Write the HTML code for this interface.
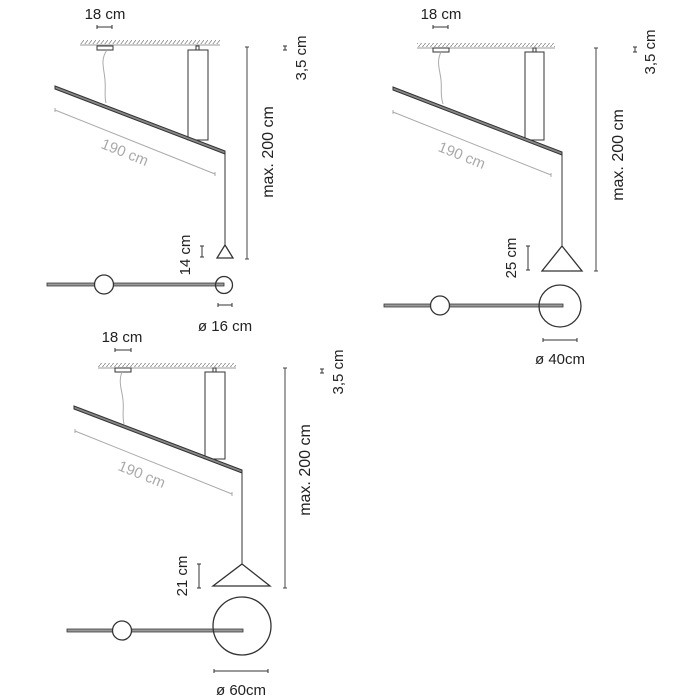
<!DOCTYPE html>
<html><head><meta charset="utf-8"><style>
html,body{margin:0;padding:0;background:#fff;}
svg{display:block;}
text{font-family:"Liberation Sans",sans-serif;fill:#222;}
</style></head><body>
<svg width="700" height="700" viewBox="0 0 700 700" xmlns="http://www.w3.org/2000/svg">
<defs>
<pattern id="h" width="4" height="5" patternUnits="userSpaceOnUse">
<line x1="0" y1="5" x2="4" y2="0" stroke="#888" stroke-width="0.8"/>
</pattern>
</defs>

<!-- Diagram 1 -->
<g stroke="#333" fill="none" stroke-width="1">
<text x="105" y="19" font-size="15" text-anchor="middle" stroke="none">18 cm</text>
<path d="M97 27H112M97 25V29M112 25V29"/>
<rect x="80" y="40" width="140" height="4" fill="url(#h)" stroke="none"/>
<line x1="80" y1="45" x2="220" y2="45" stroke="#999"/>
<rect x="97" y="46" width="16" height="4" fill="#fff"/>
<path d="M107 50 C100 60,104 68,105 80 S104 95,106 103" stroke="#aaa"/>
<rect x="188" y="50" width="20" height="90" fill="#fff"/>
<rect x="196" y="46" width="3" height="4"/>
<path d="M55 86 L225 151 L225 154 L55 89 Z" fill="#888" stroke="#333"/>
<path d="M55 110 L215 174 M55 108 L55 112 M215 172 L215 176" stroke="#aaa"/>
<text x="123" y="157" font-size="15" text-anchor="middle" stroke="none" transform="rotate(22 123 157)" style="fill:#aaa">190 cm</text>
<line x1="225" y1="154" x2="225" y2="245"/>
<path d="M225 245 L233 258 L217 258 Z" stroke-width="1.3"/>
<path d="M247 47V259M245 47H249M245 259H249" stroke="#444"/>
<text x="0" y="0" font-size="16" text-anchor="middle" stroke="none" transform="translate(273 152) rotate(-90)">max. 200 cm</text>
<path d="M285 46V50M283 46H287M283 50H287"/>
<text x="0" y="0" font-size="15" text-anchor="middle" stroke="none" transform="translate(306 58) rotate(-90)">3,5 cm</text>
<path d="M202 246V257M200 246H204M200 257H204"/>
<text x="0" y="0" font-size="15" text-anchor="middle" stroke="none" transform="translate(190 255) rotate(-90)">14 cm</text>
<path d="M47 283 H224 V286 H47 Z" fill="#999" stroke="#333" stroke-width="0.8"/>
<circle cx="104" cy="284.5" r="9.5" fill="#fff" stroke-width="1.3"/>
<circle cx="224" cy="285" r="8.5" stroke-width="1.3"/>
<path d="M218 305H232M218 303V307M232 303V307"/>
<text x="225" y="331" font-size="15" text-anchor="middle" stroke="none">ø 16 cm</text>
</g>

<!-- Diagram 2 -->
<g stroke="#333" fill="none" stroke-width="1">
<text x="441" y="19" font-size="15" text-anchor="middle" stroke="none">18 cm</text>
<path d="M433 27H448M433 25V29M448 25V29"/>
<rect x="417" y="43" width="138" height="4" fill="url(#h)" stroke="none"/>
<line x1="417" y1="48" x2="555" y2="48" stroke="#999"/>
<rect x="433" y="48" width="16" height="4" fill="#fff"/>
<path d="M441 52 C436 62,440 70,441 80 S440 95,443 104" stroke="#aaa"/>
<rect x="525" y="52" width="19" height="88" fill="#fff"/>
<rect x="533" y="48" width="3" height="4"/>
<path d="M393 87 L562 152 L562 155 L393 90 Z" fill="#888" stroke="#333"/>
<path d="M393 112 L551 175 M393 110 L393 114 M551 173 L551 177" stroke="#aaa"/>
<text x="460" y="160" font-size="15" text-anchor="middle" stroke="none" transform="rotate(22 460 160)" style="fill:#aaa">190 cm</text>
<line x1="562" y1="155" x2="562" y2="246"/>
<path d="M562 246 L582 271 L542 271 Z" stroke-width="1.3"/>
<path d="M596 48V271M594 48H598M594 271H598" stroke="#444"/>
<text x="0" y="0" font-size="16" text-anchor="middle" stroke="none" transform="translate(623 155) rotate(-90)">max. 200 cm</text>
<path d="M635 47V52M633 47H637M633 52H637"/>
<text x="0" y="0" font-size="15" text-anchor="middle" stroke="none" transform="translate(655 52) rotate(-90)">3,5 cm</text>
<path d="M528 246V270M526 246H530M526 270H530"/>
<text x="0" y="0" font-size="15" text-anchor="middle" stroke="none" transform="translate(516 258) rotate(-90)">25 cm</text>
<path d="M384 304 H563 V307 H384 Z" fill="#999" stroke="#333" stroke-width="0.8"/>
<circle cx="440" cy="305.5" r="9.5" fill="#fff" stroke-width="1.3"/>
<circle cx="560" cy="306" r="21" stroke-width="1.3"/>
<path d="M543 340H577M543 338V342M577 338V342"/>
<text x="560" y="364" font-size="15" text-anchor="middle" stroke="none">ø 40cm</text>
</g>

<!-- Diagram 3 -->
<g stroke="#333" fill="none" stroke-width="1">
<text x="122" y="342" font-size="15" text-anchor="middle" stroke="none">18 cm</text>
<path d="M115 350H131M115 348V352M131 348V352"/>
<rect x="98" y="363" width="138" height="4" fill="url(#h)" stroke="none"/>
<line x1="98" y1="368" x2="236" y2="368" stroke="#999"/>
<rect x="115" y="368" width="16" height="4" fill="#fff"/>
<path d="M122 372 C118 382,122 390,123 400 S122 415,124 424" stroke="#aaa"/>
<rect x="205" y="372" width="20" height="87" fill="#fff"/>
<rect x="213" y="368" width="3" height="4"/>
<path d="M74 406 L242 470 L242 473 L74 409 Z" fill="#888" stroke="#333"/>
<path d="M75 431 L232 494 M75 429 L75 433 M232 492 L232 496" stroke="#aaa"/>
<text x="140" y="479" font-size="15" text-anchor="middle" stroke="none" transform="rotate(22 140 479)" style="fill:#aaa">190 cm</text>
<line x1="242" y1="473" x2="242" y2="564"/>
<path d="M242 564 L270 586 L213 586 Z" stroke-width="1.3"/>
<path d="M285 368V588M283 368H287M283 588H287" stroke="#444"/>
<text x="0" y="0" font-size="16" text-anchor="middle" stroke="none" transform="translate(310 470) rotate(-90)">max. 200 cm</text>
<path d="M322 369V373M320 369H324M320 373H324"/>
<text x="0" y="0" font-size="15" text-anchor="middle" stroke="none" transform="translate(343 372) rotate(-90)">3,5 cm</text>
<path d="M199 564V588M197 564H201M197 588H201"/>
<text x="0" y="0" font-size="15" text-anchor="middle" stroke="none" transform="translate(187 576) rotate(-90)">21 cm</text>
<path d="M67 629 H243 V632 H67 Z" fill="#999" stroke="#333" stroke-width="0.8"/>
<circle cx="122" cy="630.5" r="9.5" fill="#fff" stroke-width="1.3"/>
<circle cx="242" cy="626" r="29" stroke-width="1.3"/>
<path d="M214 671H268M214 669V673M268 669V673"/>
<text x="241" y="695" font-size="15" text-anchor="middle" stroke="none">ø 60cm</text>
</g>
</svg>
</body></html>
